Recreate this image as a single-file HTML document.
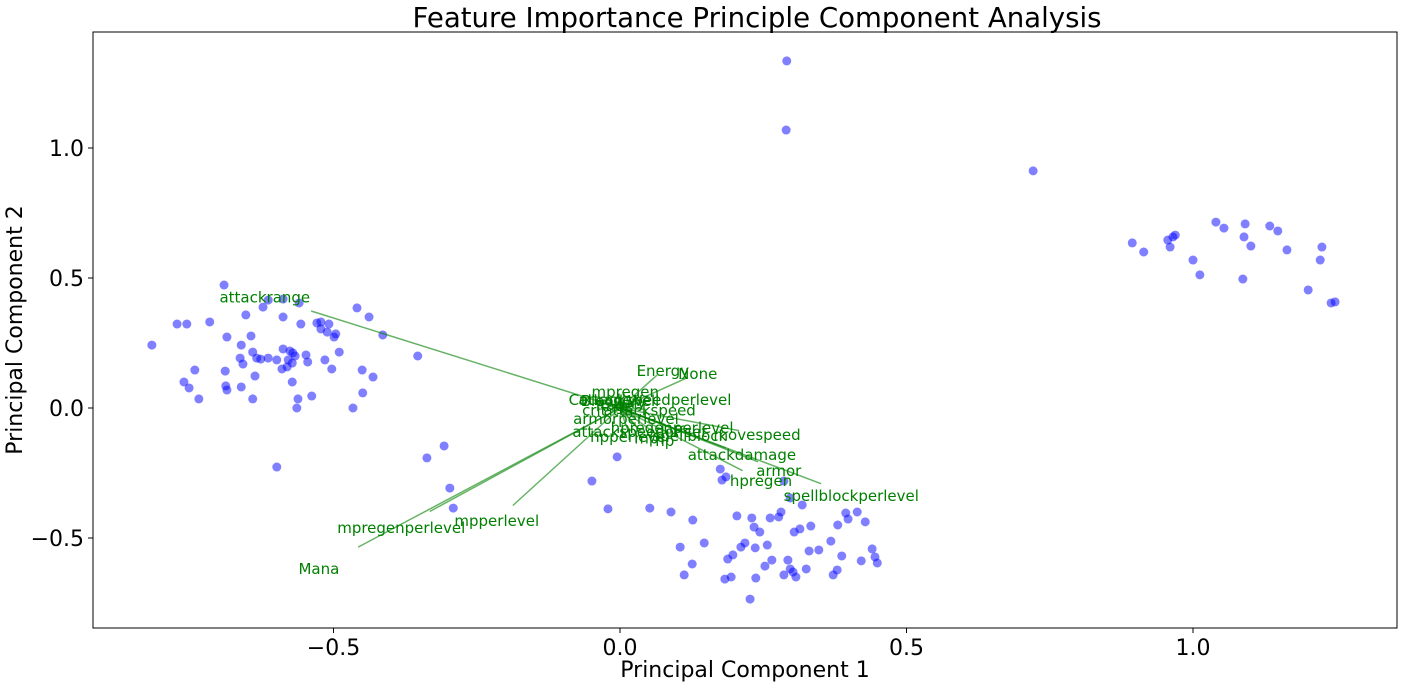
<!DOCTYPE html>
<html><head><meta charset="utf-8"><style>
body{margin:0;background:#fff;font-family:"Liberation Sans","DejaVu Sans",sans-serif}
svg text{font-family:"DejaVu Sans","Liberation Sans",sans-serif}
</style></head><body>
<svg id="chart" width="1406" height="686" viewBox="0 0 1406 686" xmlns="http://www.w3.org/2000/svg">
<rect width="1406" height="686" fill="#fff"/>
<text x="757" y="27" font-size="27.6" text-anchor="middle" fill="#000">Feature Importance Principle Component Analysis</text>
<text x="745" y="677" font-size="22" text-anchor="middle" fill="#000">Principal Component 1</text>
<text x="0" y="0" font-size="22" text-anchor="middle" fill="#000" transform="translate(22,330) rotate(-90)">Principal Component 2</text>
<g id="plot"></g>
</svg>
<script>
const xTicks=[-0.5,0,0.5,1.0];
const yTicks=[-0.5,0,0.5,1.0];
const tickLabels=["\u22120.5","0.0","0.5","1.0"];
const ptX=[-0.691,-0.817,-0.773,-0.756,-0.716,-0.686,-0.653,-0.623,-0.614,-0.588,-0.560,-0.588,-0.557,-0.644,-0.661,-0.641,-0.663,-0.658,-0.634,-0.627,-0.614,-0.599,-0.588,-0.576,-0.571,-0.567,-0.579,-0.572,-0.581,-0.590,-0.548,-0.545,-0.529,-0.522,-0.522,-0.511,-0.508,-0.499,-0.496,-0.490,-0.515,-0.503,-0.459,-0.438,-0.414,-0.353,-0.450,-0.431,-0.449,-0.466,-0.742,-0.761,-0.752,-0.735,-0.689,-0.688,-0.686,-0.661,-0.637,-0.641,-0.572,-0.562,-0.564,-0.538,-0.599,-0.337,-0.307,-0.297,-0.291,
-0.005,-0.049,-0.021,0.052,0.089,0.127,0.105,0.147,0.126,0.112,0.175,0.185,0.178,0.286,0.297,0.318,0.204,0.230,0.262,0.277,0.281,0.234,0.244,0.218,0.211,0.197,0.188,0.236,0.257,0.265,0.253,0.237,0.194,0.183,0.227,0.293,0.297,0.302,0.307,0.286,0.325,0.330,0.347,0.304,0.314,0.333,0.368,0.380,0.394,0.398,0.414,0.428,0.387,0.379,0.372,0.421,0.440,0.445,0.449,
0.894,0.914,0.956,0.965,0.969,0.960,1.000,1.012,1.040,1.054,1.091,1.089,1.101,1.087,1.134,1.148,1.164,1.225,1.222,1.201,1.241,1.248,0.291,0.290,0.721];
const ptY=[0.473,0.242,0.323,0.323,0.331,0.273,0.358,0.388,0.415,0.419,0.404,0.350,0.323,0.277,0.242,0.215,0.192,0.169,0.192,0.188,0.192,0.185,0.227,0.219,0.212,0.200,0.185,0.173,0.158,0.150,0.204,0.177,0.327,0.331,0.304,0.292,0.323,0.273,0.285,0.215,0.185,0.150,0.385,0.350,0.281,0.200,0.146,0.119,0.058,0.000,0.146,0.100,0.077,0.035,0.142,0.085,0.069,0.081,0.123,0.035,0.100,0.035,0.000,0.046,-0.227,-0.192,-0.146,-0.308,-0.385,
-0.188,-0.281,-0.388,-0.385,-0.400,-0.431,-0.535,-0.519,-0.600,-0.642,-0.235,-0.265,-0.277,-0.281,-0.346,-0.373,-0.415,-0.423,-0.423,-0.419,-0.400,-0.458,-0.477,-0.519,-0.535,-0.565,-0.581,-0.538,-0.527,-0.585,-0.608,-0.654,-0.650,-0.658,-0.735,-0.585,-0.619,-0.631,-0.650,-0.642,-0.619,-0.550,-0.546,-0.477,-0.465,-0.454,-0.512,-0.450,-0.404,-0.427,-0.400,-0.438,-0.569,-0.623,-0.642,-0.588,-0.542,-0.573,-0.596,
0.635,0.600,0.646,0.658,0.665,0.619,0.569,0.512,0.715,0.692,0.708,0.658,0.623,0.496,0.700,0.681,0.608,0.619,0.569,0.454,0.404,0.408,1.335,1.069,0.912];
const featNames=["attackrange","Mana","mpregenperlevel","mpperlevel","spellblockperlevel","armor","hpregen","attackdamage","Energy","None","mpregen","attackspeedperlevel","Courage","Blood Well","Fury","Rage","crit","attackspeed","armorperlevel","attackspeedoffset","hpregenperlevel","movespeed","hpperlevel","spellblock","mp","hp"];
const loadX=[-0.539,-0.457,-0.332,-0.187,0.351,0.241,0.214,0.185,0.065,0.118,0.008,0.053,-0.030,0.000,0.015,-0.008,-0.039,0.045,0.009,0.030,0.079,0.208,0.015,0.106,0.040,0.068];
const loadY=[0.373,-0.535,-0.398,-0.375,-0.291,-0.207,-0.241,-0.154,0.127,0.117,0.057,0.030,0.030,0.027,0.020,0.010,-0.005,-0.005,-0.033,-0.077,-0.064,-0.087,-0.094,-0.090,-0.098,-0.107];
const L=93,T=32,R=1397,B=628;
const sx=v=>620+v*573, sy=v=>408-v*260;
const NS="http://www.w3.org/2000/svg";
const g=document.getElementById('plot');
function mk(tag,attrs,parent){const e=document.createElementNS(NS,tag);for(const k in attrs)e.setAttribute(k,attrs[k]);(parent||g).appendChild(e);return e;}
ptX.forEach((x,i)=>{
 const c=mk('circle',{cx:sx(x),cy:sy(ptY[i]),r:4.5,fill:'rgba(0,0,255,0.5)'});
 
 
});
featNames.forEach((n,i)=>{
 const ln=mk('line',{x1:sx(0),y1:sy(0),x2:sx(loadX[i]),y2:sy(loadY[i]),stroke:'rgba(0,128,0,0.6)','stroke-width':1.5});
 
 
});
featNames.forEach((n,i)=>{
 const t=mk('text',{x:sx(loadX[i]*1.15),y:sy(loadY[i]*1.15)+6,'font-size':15,'text-anchor':'middle',fill:'#008000'});
 t.textContent=n;
 
 
});
const fr=mk('rect',{x:L,y:T,width:R-L,height:B-T,fill:'none',stroke:'#000','stroke-width':1});


xTicks.forEach((v,i)=>{
 const tk=mk('line',{x1:sx(v),x2:sx(v),y1:B,y2:B+5,stroke:'#000'});
 
 
 const t=mk('text',{x:sx(v),y:B+27,'font-size':22,'text-anchor':'middle',fill:'#000'});
 t.textContent=tickLabels[i];
 
 
});
yTicks.forEach((v,i)=>{
 const tk=mk('line',{x1:L-5,x2:L,y1:sy(v),y2:sy(v),stroke:'#000'});
 
 
 const t=mk('text',{x:L-9,y:sy(v)+8,'font-size':22,'text-anchor':'end',fill:'#000'});
 t.textContent=tickLabels[i];
 
 
});
</script>
</body></html>
